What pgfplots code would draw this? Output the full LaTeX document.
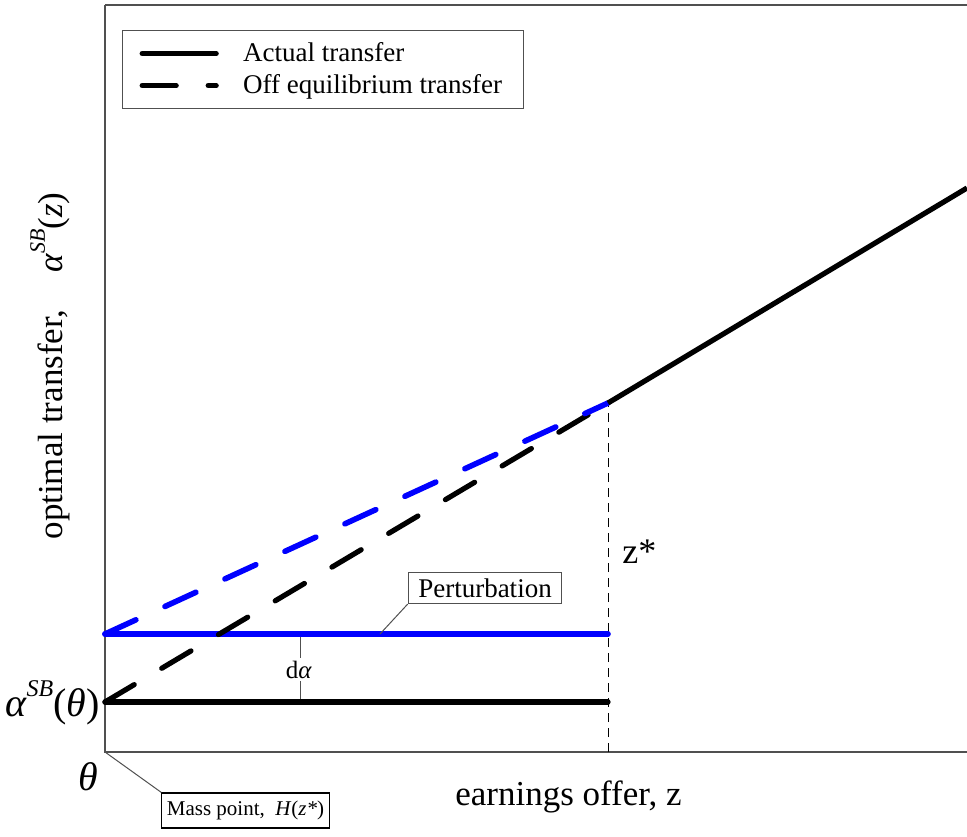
\documentclass[border=0pt]{standalone}
\usepackage{pgfplots}
\pgfplotsset{compat=1.18}
\usepackage{fontspec}
\setmainfont{Liberation Serif}
\definecolor{axgray}{RGB}{80,80,80}
\definecolor{pblue}{RGB}{0,0,255}
\begin{document}
\begin{tikzpicture}
\begin{axis}[
  scale only axis, width=431pt, height=373.5pt,
  xmin=0, xmax=8.62, ymin=0, ymax=7.47,
  xtick=\empty, ytick=\empty,
  axis line style={draw=none},
  clip=false,
  legend style={at={(rel axis cs:0.0197,0.9665)}, anchor=north west,
    draw=axgray, line width=0.6pt, font=\fontsize{13.5}{15}\selectfont,
    inner xsep=8.5pt, inner ysep=4pt, row sep=1pt, legend cell align=left},
  legend image code/.code={\draw[#1] (0pt,0pt) -- (37pt,0pt); \path[draw=none] (0pt,0pt) -- (48.5pt,0pt);},
]
  \addlegendimage{black, line width=2.6pt, line cap=round}
  \addlegendentry{Actual transfer}
  \addlegendimage{black, line width=2.6pt, line cap=round, dash pattern=on 17pt off 16pt}
  \addlegendentry{Off equilibrium transfer\hspace{3pt}}

  % axis frame (left, bottom, top)
  \draw[axgray, line width=0.7pt] (rel axis cs:0,1) -- (rel axis cs:0,0) -- (rel axis cs:1,0);
  \draw[axgray, line width=0.7pt] (rel axis cs:0,1) -- (rel axis cs:1,1);

  % z* vertical dashed line
  \addplot[black, line width=0.5pt, dash pattern=on 4.5pt off 3pt, forget plot] coordinates {(5.03,0) (5.03,3.49)};
  % d alpha marker
  \addplot[axgray, line width=0.4pt, forget plot] coordinates {(1.95,0.50) (1.95,1.18)};

  % perturbation (blue horizontal)
  \addplot[pblue, line width=2.8pt, line cap=round, forget plot] coordinates {(0,1.18) (5.03,1.18)};
  % off-equilibrium transfer (black dashed)
  \addplot[black, line width=2.6pt, line cap=round, dash pattern=on 17pt off 16pt, forget plot] coordinates {(0,0.50) (5.03,3.49)};
  % perturbed off-equilibrium (blue dashed)
  \addplot[pblue, line width=2.8pt, line cap=round, dash pattern=on 17pt off 16pt, forget plot] coordinates {(0,1.18) (5.03,3.49)};
  % actual transfer
  \addplot[black, line width=2.6pt, line cap=round, forget plot] coordinates {(0,0.50) (5.03,0.50)};
  \addplot[black, line width=2.6pt, forget plot] coordinates {(5.03,3.49) (8.62,5.64)};

  % labels
  \node[fill=white, inner sep=1.5pt, anchor=base, font=\fontsize{12.5}{14}\selectfont] at (axis cs:1.94,0.74) {d\textit{α}};
  \node[draw=axgray, fill=white, line width=0.6pt, inner xsep=5pt, inner ysep=3pt, font=\fontsize{13.5}{15}\selectfont] (pert) at (axis cs:3.80,1.64) {Perturbation};
  \draw[axgray, line width=0.5pt] (axis cs:2.75,1.18) -- (pert.south west);

  \node[draw=black, fill=white, line width=0.6pt, inner xsep=2.5pt, inner ysep=4pt, font=\fontsize{10.5}{12}\selectfont] (mp) at (axis cs:1.405,-0.585) {Mass point,\ \ \textit{H}(\textit{z*})};
  \draw[axgray, line width=0.5pt] (axis cs:0,0) -- (mp.north west);

  \node[anchor=base, inner sep=0pt, font=\fontsize{20}{22}\selectfont] at (axis cs:-0.17,-0.38) {\textit{θ}};
  \node[anchor=base east, inner sep=0pt, font=\fontsize{20}{22}\selectfont] at (axis cs:-0.05,0.36) {\textit{α}\kern-0.5pt\raisebox{0.5em}{\fontsize{12}{13}\selectfont\textit{SB}}(\textit{θ})};

  \node[anchor=base west, inner sep=0pt, font=\fontsize{18}{20}\selectfont] at (axis cs:5.17,1.89) {z*};
  \node[anchor=base, inner sep=0pt, font=\fontsize{17.5}{20}\selectfont] at (axis cs:4.635,-0.53) {earnings offer, z};
  \node[rotate=90, inner sep=0pt, font=\fontsize{17.5}{20}\selectfont] at (axis cs:-0.55,3.86) {optimal transfer,\hspace{0.8em} \textit{α}\raisebox{0.5em}{\fontsize{11}{12}\selectfont\textit{SB}}(\textit{z})};

  \coordinate (BL) at (axis cs:-1.05,-0.84);
  \coordinate (TR) at (axis cs:8.62,7.52);
\end{axis}
\pgfresetboundingbox
\path[use as bounding box] (BL) rectangle (TR);
\end{tikzpicture}
\end{document}
